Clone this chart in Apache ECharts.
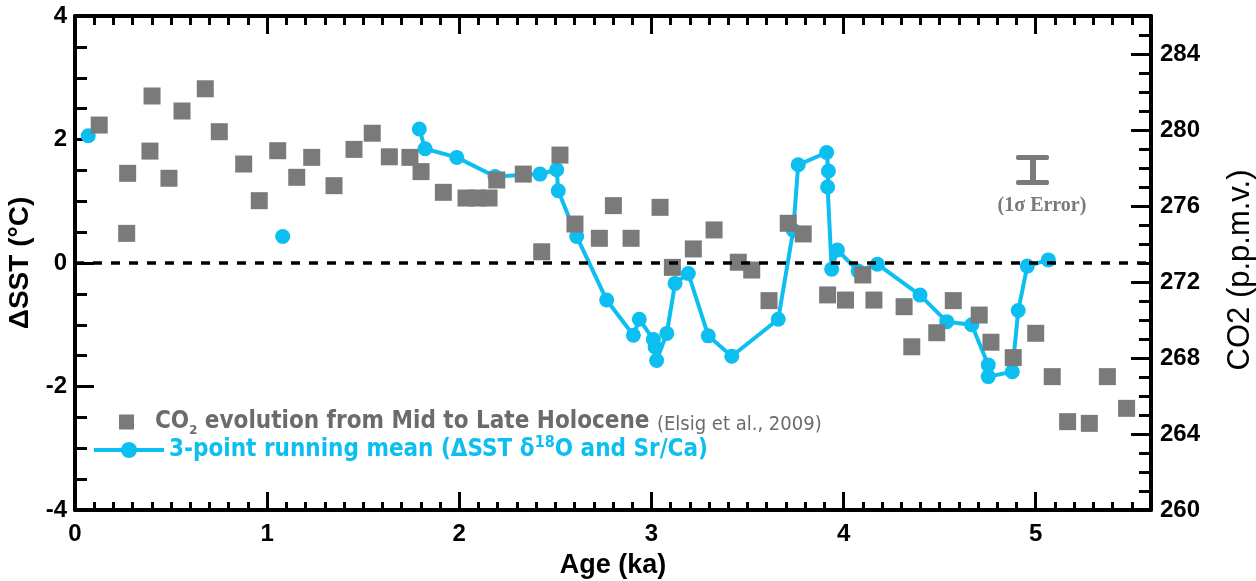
<!DOCTYPE html>
<html>
<head>
<meta charset="utf-8">
<title>SST and CO2</title>
<script src="https://cdn.jsdelivr.net/npm/echarts@6/dist/echarts.min.js"></script>
<style>
    html,body{margin:0;padding:0;background:#fff;}
    #main{width:1256px;height:581px;}
</style>
</head>
<body>
<div id="main"></div>
<script>
// 3-point running mean of dSST (null = gap between points)
var sstAge = [0.069, null, 1.081, null, 1.792, 1.822, 1.987, 2.186, 2.420, 2.507, 2.515, 2.611, 2.767, 2.906, 2.937,
    3.010, 3.019, 3.027, 3.080, 3.123, 3.192, 3.296, 3.418, 3.660, 3.738, 3.764, 3.912, 3.921, 3.917, 3.938,
    3.968, 4.076, 4.176, 4.398, 4.537, 4.667, 4.753, 4.753, 4.878, 4.909, 4.956, 5.066];
var sstVal = [2.06, null, 0.43, null, 2.17, 1.85, 1.71, 1.40, 1.44, 1.51, 1.17, 0.43, -0.60, -1.17, -0.91,
    -1.24, -1.36, -1.58, -1.14, -0.33, -0.17, -1.18, -1.51, -0.91, 0.53, 1.59, 1.79, 1.49, 1.23, -0.10,
    0.21, -0.13, -0.02, -0.52, -0.95, -1.00, -1.65, -1.84, -1.76, -0.77, -0.05, 0.05];

// CO2 (Elsig et al., 2009), ppmv
var co2Age = [0.126, 0.274, 0.269, 0.401, 0.390, 0.489, 0.557, 0.678, 0.751, 0.878, 0.959, 1.055, 1.154, 1.232,
    1.348, 1.452, 1.547, 1.636, 1.743, 1.801, 1.917, 2.035, 2.092, 2.155, 2.195, 2.333, 2.429, 2.524, 2.602,
    2.729, 2.802, 2.894, 3.045, 3.109, 3.218, 3.326, 3.452, 3.522, 3.612, 3.712, 3.790, 3.917, 4.010, 4.100,
    4.158, 4.315, 4.355, 4.485, 4.571, 4.706, 4.767, 4.883, 5.000, 5.086, 5.166, 5.279, 5.373, 5.473];
var co2Ppm = [280.26, 277.72, 274.56, 281.79, 278.89, 277.46, 281.00, 282.17, 279.91, 278.21, 276.28, 278.91, 277.51, 278.56,
    277.07, 278.98, 279.83, 278.59, 278.56, 277.81, 276.72, 276.42, 276.42, 276.42, 277.37, 277.68, 273.59, 278.68, 275.05,
    274.30, 276.02, 274.30, 275.93, 272.77, 273.74, 274.74, 273.04, 272.63, 271.02, 275.09, 274.53, 271.32, 271.05, 272.37,
    271.05, 270.70, 268.59, 269.33, 271.02, 270.26, 268.83, 268.02, 269.30, 267.02, 264.65, 264.56, 267.02, 265.35];

// axis ranges
var ageMin = 0, ageMax = 5.6;
var sstMin = -4, sstMax = 4;
var ppmMin = 260, ppmMax = 286;

var BLUE = '#0cbff0';
var GRAY = '#7a7a7a';
var FONT = '"Liberation Sans", Arial, sans-serif';
var NARROW = '"Liberation Sans Narrow", "DejaVu Sans Condensed", "Liberation Sans", sans-serif';

var sstData = [];
for (var i = 0; i < sstAge.length; i++) {
    if (sstAge[i] === null) {
        sstData.push(null);
    } else {
        sstData.push([sstAge[i], sstVal[i]]);
    }
}
var co2Data = [];
for (var j = 0; j < co2Age.length; j++) {
    co2Data.push([co2Age[j], co2Ppm[j]]);
}

var lblStyle = {fontFamily: FONT, fontWeight: 'bold', fontSize: 24, color: '#000'};
var axLine = {show: true, onZero: false, lineStyle: {color: '#000', width: 4}};
var noLine = {show: false, onZero: false};

var chart = echarts.init(document.getElementById('main'));
var option = {
    animation: false,
    backgroundColor: '#fff',
    grid: {left: 75, right: 105, top: 16, bottom: 71, outerBoundsMode: 'none'},
    legend: [
        {
            left: 114, top: 405,
            itemWidth: 47, itemHeight: 15,
            data: [{name: 'co2', icon: 'path://M0,0H10V10H0Z'}],
            formatter: function () {
                return '{a|CO}{s|2}{a| evolution from Mid to Late Holocene }{e|(Elsig et al., 2009)}';
            },
            textStyle: {
                rich: {
                    a: {fontFamily: NARROW, fontWeight: 'bold', fontSize: 24, color: '#6b6b6b', lineHeight: 30},
                    s: {fontFamily: NARROW, fontWeight: 'bold', fontSize: 13, color: '#6b6b6b', lineHeight: 30, verticalAlign: 'bottom'},
                    e: {fontFamily: NARROW, fontSize: 20, color: '#6b6b6b', lineHeight: 30, verticalAlign: 'bottom', padding: [0, 0, 2, 0]}
                }
            }
        },
        {
            left: 87, top: 430,
            itemWidth: 70, itemHeight: 20,
            data: ['sst'],
            lineStyle: {width: 4},
            formatter: function () {
                return '{b|3-point running mean (\u0394SST \u03b4}{u|18}{b|O and Sr/Ca)}';
            },
            textStyle: {
                rich: {
                    b: {fontFamily: NARROW, fontWeight: 'bold', fontSize: 24, color: BLUE, lineHeight: 30},
                    u: {fontFamily: NARROW, fontWeight: 'bold', fontSize: 16, color: BLUE, lineHeight: 30, verticalAlign: 'top'}
                }
            }
        }
    ],
    xAxis: [
        {
            type: 'value', position: 'bottom', min: ageMin, max: ageMax, interval: 1,
            axisLine: axLine,
            axisTick: {inside: true, length: 18, lineStyle: {color: '#000', width: 3}},
            axisLabel: Object.assign({margin: 12, showMaxLabel: false}, lblStyle),
            splitLine: {show: false},
            name: 'Age (ka)', nameLocation: 'middle', nameGap: 42,
            nameTextStyle: {fontFamily: FONT, fontWeight: 'bold', fontSize: 27, color: '#000'}
        },
        {
            type: 'value', position: 'bottom', min: ageMin, max: ageMax, interval: 0.1,
            axisLine: noLine,
            axisTick: {inside: true, length: 8, lineStyle: {color: '#000', width: 3}},
            axisLabel: {show: false}, splitLine: {show: false}
        },
        {
            type: 'value', position: 'top', min: ageMin, max: ageMax, interval: 1,
            axisLine: axLine,
            axisTick: {inside: true, length: 18, lineStyle: {color: '#000', width: 3}},
            axisLabel: {show: false}, splitLine: {show: false}
        },
        {
            type: 'value', position: 'top', min: ageMin, max: ageMax, interval: 0.1,
            axisLine: noLine,
            axisTick: {inside: true, length: 9, lineStyle: {color: '#000', width: 3}},
            axisLabel: {show: false}, splitLine: {show: false}
        }
    ],
    yAxis: [
        {
            type: 'value', position: 'left', min: sstMin, max: sstMax, interval: 2,
            axisLine: axLine,
            axisTick: {inside: true, length: 19, lineStyle: {color: '#000', width: 3}},
            minorTick: {show: true, splitNumber: 4, length: 12, lineStyle: {color: '#000', width: 3}},
            axisLabel: Object.assign({margin: 8}, lblStyle),
            splitLine: {show: false},
            name: '\u0394SST (\u00b0C)', nameLocation: 'middle', nameGap: 35,
            nameTextStyle: {fontFamily: FONT, fontWeight: 'bold', fontSize: 28, color: '#000'}
        },
        {
            type: 'value', position: 'right', min: ppmMin, max: ppmMax, interval: 4,
            axisLine: axLine,
            axisTick: {inside: true, length: 20, lineStyle: {color: '#000', width: 3}},
            axisLabel: Object.assign({margin: 9, showMaxLabel: false}, lblStyle),
            splitLine: {show: false},
            name: 'CO2 (p.p.m.v.)', nameLocation: 'middle', nameGap: 74,
            nameTextStyle: {fontFamily: FONT, fontSize: 31, color: '#000', padding: [0, 14, 0, 0]}
        },
        {
            type: 'value', position: 'right', min: ppmMin, max: ppmMax, interval: 1,
            axisLine: noLine,
            axisTick: {inside: true, length: 12, lineStyle: {color: '#000', width: 3}},
            axisLabel: {show: false}, splitLine: {show: false}
        }
    ],
    // 1 sigma error key
    graphic: [
        {type: 'rect', left: 1016, top: 155, shape: {width: 33, height: 5, r: 2}, style: {fill: GRAY}},
        {type: 'rect', left: 1030, top: 157, shape: {width: 6, height: 26}, style: {fill: GRAY}},
        {type: 'rect', left: 1016, top: 180, shape: {width: 33, height: 5, r: 2}, style: {fill: GRAY}},
        {
            type: 'text', x: 1042, y: 206,
            style: {
                text: '(1\u03c3 Error)', fill: GRAY, align: 'center', verticalAlign: 'middle',
                font: 'bold 20px "Liberation Serif", "Times New Roman", serif'
            }
        }
    ],
    series: [
        {
            name: 'sst',
            type: 'line',
            xAxisIndex: 0, yAxisIndex: 0,
            data: sstData,
            symbol: 'circle', symbolSize: 15,
            lineStyle: {color: BLUE, width: 4},
            itemStyle: {color: BLUE},
            z: 2,
            markLine: {
                silent: true, symbol: 'none',
                label: {show: false},
                lineStyle: {color: '#000', width: 3.5, type: [9, 9]},
                data: [{yAxis: 0}]
            }
        },
        {
            name: 'co2',
            type: 'scatter',
            xAxisIndex: 0, yAxisIndex: 1,
            data: co2Data,
            symbol: 'rect', symbolSize: 17,
            itemStyle: {color: GRAY, opacity: 1},
            z: 3
        }
    ]
};
chart.setOption(option);
window.onresize = chart.resize;
</script>
</body>
</html>
